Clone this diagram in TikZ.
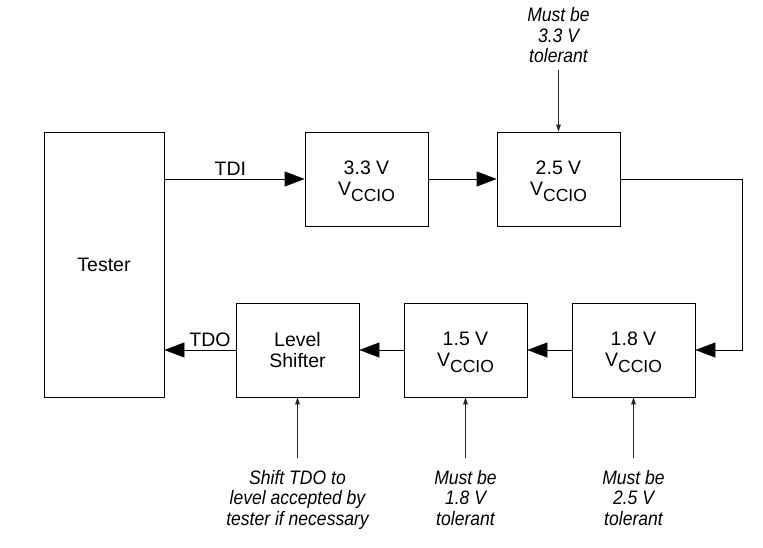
\documentclass[tikz,border=0pt]{standalone}
\usepackage{fontspec}
\setmainfont{Liberation Sans}
\newfontfamily\notefont[FakeStretch=0.9]{Liberation Sans}
\usetikzlibrary{arrows.meta}

\newcommand{\vccio}{V\raisebox{-6pt}{\fontsize{17.5}{17.5}\selectfont CCIO}}

\begin{document}
\begin{tikzpicture}[x=1pt,y=-1pt,
    block/.style={draw,line width=0.8pt,minimum width=123pt,minimum height=94pt,inner sep=0pt,align=center,font=\fontsize{19.5}{20.5}\selectfont},
    flow/.style={line width=0.8pt,-{Triangle[length=20pt,width=15pt]}},
    note/.style={align=center,inner sep=0pt,font=\notefont\fontsize{19.5}{20.5}\selectfont\itshape},
    notearrow/.style={line width=0.6pt,black!85,-{Triangle[length=7pt,width=4.5pt]}}]
      \useasboundingbox (0,0) rectangle (763,548);

      % Tester
      \node[block,minimum width=120pt,minimum height=265pt] (tester) at (104,264.5) {Tester};

      % Upper chain
      \node[block] (b33) at (366.5,179) {\rule{0pt}{18pt}3.3 V\\\vccio};
      \node[block] (b25) at (558.5,179) {\rule{0pt}{18pt}2.5 V\\\vccio};

      % Lower chain
      \node[block] (b18) at (633.5,350) {\rule{0pt}{18pt}1.8 V\\\vccio};
      \node[block] (b15) at (465.5,350) {\rule{0pt}{18pt}1.5 V\\\vccio};
      \node[block] (ls) at (297.5,350) {Level\\Shifter};

      % Scan path
      \draw[flow] (b33.west -| tester.east) -- node[above,pos=0.47,font=\fontsize{19.5}{20.5}\selectfont] {TDI} (b33.west);
      \draw[flow] (b33) -- (b25);
      \draw[flow] (b25.east) -- ++(122,0) |- (b18.east);
      \draw[flow] (b18) -- (b15);
      \draw[flow] (b15) -- (ls);
      \draw[flow] (ls.west) -- node[above,pos=0.36,font=\fontsize{19.5}{20.5}\selectfont] {TDO} (ls.west -| tester.east);

      % Notes
      \node[note,anchor=south] (n25) at (558.5,63) {Must be\\3.3 V\\tolerant};
      \node[note,anchor=north] (nls) at (297.5,470) {Shift TDO to\\level accepted by\\tester if necessary};
      \node[note,anchor=north] (n15) at (465.5,470) {Must be\\1.8 V\\tolerant};
      \node[note,anchor=north] (n18) at (633.5,470) {Must be\\2.5 V\\tolerant};

      \draw[notearrow,shorten <=7pt] (n25.south) -- (b25.north);
      \draw[notearrow,shorten <=12pt] (nls.north) -- (ls.south);
      \draw[notearrow,shorten <=12pt] (n15.north) -- (b15.south);
      \draw[notearrow,shorten <=12pt] (n18.north) -- (b18.south);
\end{tikzpicture}
\end{document}
